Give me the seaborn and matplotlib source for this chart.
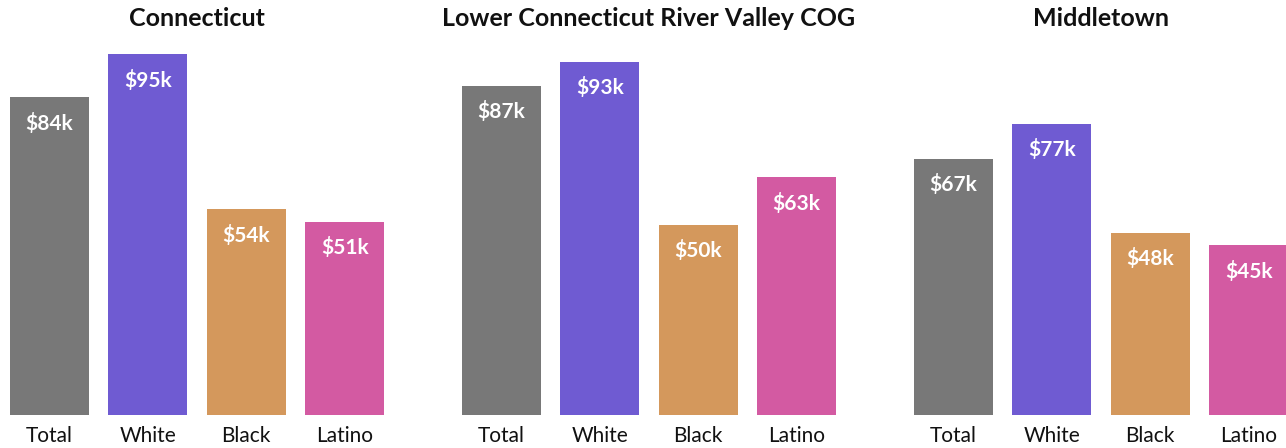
import matplotlib
matplotlib.use("Agg")
import matplotlib.pyplot as plt
import seaborn as sns

regions = ["Connecticut", "Lower Connecticut River Valley COG", "Middletown"]
groups = ["Total", "White", "Black", "Latino"]
connecticut = [83.6, 95.0, 54.2, 50.8]
lower_ct_river_valley = [86.6, 92.9, 50.0, 62.6]
middletown = [67.4, 76.6, 47.9, 44.7]
colors = ["#787878", "#6f5bd2", "#d4985c", "#d35aa2"]

series = [connecticut, lower_ct_river_valley, middletown]

sns.set_theme(style="white")
plt.rcParams["font.family"] = ["Lato", "DejaVu Sans"]

W, H = 1286, 448
fig = plt.figure(figsize=(W / 100, H / 100), dpi=100)

ax_lefts = [10, 462, 914]
ax_w = 374
base_y = 415
top_y = 35  # ylim top = 100

for left, title, vals in zip(ax_lefts, regions, series):
    ax = fig.add_axes([left / W, (H - base_y) / H, ax_w / W, (base_y - top_y) / H])
    sns.barplot(x=groups, y=vals, hue=groups, palette=colors, ax=ax,
                legend=False, width=0.8, saturation=1, linewidth=0)
    ax.set_xlim(-0.4, 3.4)
    ax.set_ylim(0, 100)
    ax.set_yticks([])
    ax.set_xlabel("")
    ax.set_ylabel("")
    for s in ax.spines.values():
        s.set_visible(False)
    ax.tick_params(axis="x", length=0, pad=8, labelsize=15, colors="#111111")
    for i, v in enumerate(vals):
        ax.annotate(f"${v:.0f}k", xy=(i, v), xytext=(0, -26 * 0.72),
                    textcoords="offset points", ha="center", va="center",
                    color="white", fontsize=15, fontweight="bold")
    fig.text((left + ax_w / 2) / W, 1 - 18 / H, title, ha="center", va="center",
             fontsize=18, fontweight="bold", color="#111111")

fig.savefig("out.png", dpi=100)
